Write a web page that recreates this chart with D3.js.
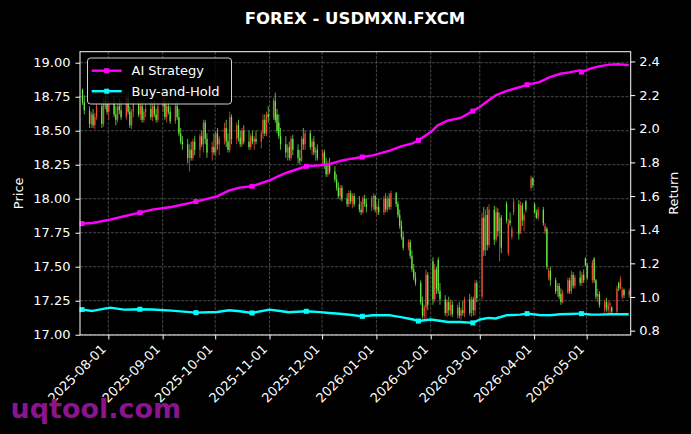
<!DOCTYPE html>
<html><head><meta charset="utf-8">
<script src="https://cdn.jsdelivr.net/npm/d3@7"></script>
<style>
html,body{margin:0;padding:0;background:#000;}
svg{display:block;font-family:"DejaVu Sans",sans-serif;}
</style></head><body>
<svg id="chart" width="691" height="434"></svg>
<script>
// ---------- DATA ----------
const dates = [
"2025-07-17","2025-07-18",
"2025-07-21","2025-07-22","2025-07-23","2025-07-24","2025-07-25",
"2025-07-28","2025-07-29","2025-07-30","2025-07-31","2025-08-01",
"2025-08-04","2025-08-05","2025-08-06","2025-08-07","2025-08-08",
"2025-08-11","2025-08-12","2025-08-13","2025-08-14","2025-08-15",
"2025-08-18","2025-08-19","2025-08-20","2025-08-21","2025-08-22",
"2025-08-25","2025-08-26","2025-08-27","2025-08-28","2025-08-29",
"2025-09-01","2025-09-02","2025-09-03","2025-09-04","2025-09-05",
"2025-09-08","2025-09-09","2025-09-10","2025-09-11","2025-09-12",
"2025-09-15","2025-09-16","2025-09-17","2025-09-18","2025-09-19",
"2025-09-22","2025-09-23","2025-09-24","2025-09-25","2025-09-26",
"2025-09-29","2025-09-30","2025-10-01","2025-10-02","2025-10-03",
"2025-10-06","2025-10-07","2025-10-08","2025-10-09","2025-10-10",
"2025-10-13","2025-10-14","2025-10-15","2025-10-16","2025-10-17",
"2025-10-20","2025-10-21","2025-10-22","2025-10-23","2025-10-24",
"2025-10-27","2025-10-28","2025-10-29","2025-10-30","2025-10-31",
"2025-11-03","2025-11-04","2025-11-05","2025-11-06","2025-11-07",
"2025-11-10","2025-11-11","2025-11-12","2025-11-13","2025-11-14",
"2025-11-17","2025-11-18","2025-11-19","2025-11-20","2025-11-21",
"2025-11-24","2025-11-25","2025-11-26","2025-11-27","2025-11-28",
"2025-12-01","2025-12-02","2025-12-03","2025-12-04","2025-12-05",
"2025-12-08","2025-12-09","2025-12-10","2025-12-11","2025-12-12",
"2025-12-15","2025-12-16","2025-12-17","2025-12-18","2025-12-19",
"2025-12-22","2025-12-23","2025-12-24","2025-12-25","2025-12-26",
"2025-12-29","2025-12-30","2025-12-31","2026-01-01","2026-01-02",
"2026-01-05","2026-01-06","2026-01-07","2026-01-08","2026-01-09",
"2026-01-12","2026-01-13","2026-01-14","2026-01-15","2026-01-16",
"2026-01-19","2026-01-20","2026-01-21","2026-01-22","2026-01-23",
"2026-01-26","2026-01-27","2026-01-28","2026-01-29","2026-01-30",
"2026-02-02","2026-02-03","2026-02-04","2026-02-05","2026-02-06",
"2026-02-09","2026-02-10","2026-02-11","2026-02-12","2026-02-13",
"2026-02-16","2026-02-17","2026-02-18","2026-02-19","2026-02-20",
"2026-02-23","2026-02-24","2026-02-25","2026-02-26","2026-02-27",
"2026-03-02","2026-03-03","2026-03-04","2026-03-05","2026-03-06",
"2026-03-09","2026-03-10","2026-03-11","2026-03-12","2026-03-13",
"2026-03-16","2026-03-17","2026-03-18","2026-03-19","2026-03-20",
"2026-03-23","2026-03-24","2026-03-25","2026-03-26","2026-03-27",
"2026-03-30","2026-03-31","2026-04-01","2026-04-02","2026-04-03",
"2026-04-06","2026-04-07","2026-04-08","2026-04-09","2026-04-10",
"2026-04-13","2026-04-14","2026-04-15","2026-04-16","2026-04-17",
"2026-04-20","2026-04-21","2026-04-22","2026-04-23","2026-04-24",
"2026-04-27","2026-04-28","2026-04-29","2026-04-30","2026-05-01",
"2026-05-04","2026-05-05","2026-05-06","2026-05-07","2026-05-08",
"2026-05-11","2026-05-12","2026-05-13","2026-05-14","2026-05-15",
"2026-05-18","2026-05-19","2026-05-20","2026-05-21","2026-05-22",
"2026-05-25"
];
const openP = [
18.80,18.71,
18.65,18.55,18.62,18.54,18.60,
18.68,18.55,18.72,18.70,18.64,
18.70,18.62,18.58,18.68,18.65,
18.60,18.74,18.64,18.54,18.64,
18.70,18.62,18.68,18.58,18.64,
18.66,18.60,18.68,18.62,18.58,
18.68,18.72,18.60,18.68,18.64,
18.57,18.68,18.60,18.48,18.42,
18.40,18.30,18.36,18.30,18.42,
18.36,18.46,18.40,18.56,18.44,
18.34,18.38,18.34,18.48,18.40,
18.44,18.52,18.42,18.36,18.60,
18.44,18.54,18.45,18.40,18.50,
18.42,18.38,18.46,18.42,18.44,
18.42,18.48,18.58,18.48,18.62,
18.60,18.72,18.62,18.56,18.46,
18.40,18.34,18.38,18.30,18.44,
18.36,18.30,18.28,18.44,18.40,
18.48,18.38,18.42,18.34,18.36,
18.30,18.34,18.24,18.18,18.26,
18.20,18.14,18.08,18.02,18.08,
18.00,17.96,18.04,17.98,18.02,
17.96,17.92,17.90,18.00,17.96,
17.94,18.00,18.02,17.92,17.94,
17.90,18.00,17.92,18.00,17.94,
18.04,17.96,17.88,17.80,17.72,
17.64,17.68,17.58,17.48,17.42,
17.38,17.24,17.14,17.20,17.44,
17.54,17.26,17.48,17.55,17.32,
17.26,17.16,17.24,17.18,17.22,
17.15,17.20,17.14,17.18,17.16,
17.26,17.16,17.26,17.18,17.38,
17.28,17.86,17.62,17.88,17.66,
17.92,17.70,17.90,17.76,17.86,
17.96,17.60,17.84,17.72,17.90,
17.96,17.76,17.95,17.84,17.98,
18.08,18.15,17.96,17.90,17.86,
17.92,17.76,17.78,17.42,17.47,
17.40,17.32,17.36,17.30,17.24,
17.31,17.40,17.32,17.44,17.36,
17.42,17.38,17.44,17.56,17.51,
17.40,17.56,17.40,17.28,17.30,
17.18,17.24,17.18,17.22,17.20,
17.17,17.38,17.34,17.28,17.33,
17.29
];
const highP = [
18.81,18.76,
18.68,18.64,18.66,18.63,18.70,
18.70,18.74,18.78,18.80,18.72,
18.76,18.68,18.70,18.74,18.72,
18.76,18.78,18.68,18.66,18.72,
18.73,18.70,18.72,18.66,18.70,
18.72,18.70,18.72,18.66,18.70,
18.76,18.75,18.70,18.72,18.68,
18.70,18.72,18.66,18.52,18.46,
18.44,18.40,18.42,18.44,18.46,
18.48,18.50,18.58,18.58,18.48,
18.42,18.48,18.50,18.52,18.46,
18.56,18.58,18.48,18.64,18.62,
18.56,18.58,18.50,18.52,18.54,
18.50,18.48,18.50,18.46,18.50,
18.50,18.62,18.62,18.64,18.68,
18.74,18.78,18.66,18.62,18.52,
18.46,18.40,18.42,18.46,18.47,
18.40,18.36,18.46,18.52,18.50,
18.50,18.44,18.46,18.38,18.40,
18.36,18.36,18.30,18.28,18.30,
18.24,18.18,18.12,18.10,18.10,
18.04,18.06,18.06,18.04,18.04,
18.02,17.98,18.02,18.03,18.00,
18.02,18.04,18.03,17.96,18.00,
18.02,18.04,18.02,18.04,18.06,
18.05,17.98,17.92,17.84,17.76,
17.70,17.70,17.62,17.52,17.46,
17.40,17.28,17.22,17.48,17.46,
17.57,17.52,17.50,17.57,17.38,
17.29,17.26,17.28,17.26,17.25,
17.22,17.24,17.20,17.25,17.28,
17.30,17.28,17.28,17.40,17.40,
17.90,17.94,17.92,17.94,17.96,
17.95,17.94,17.93,17.90,17.88,
17.98,17.85,17.90,17.80,18.00,
17.99,17.98,17.97,17.90,17.99,
18.17,18.16,17.97,17.92,17.94,
17.94,17.82,17.79,17.49,17.50,
17.42,17.38,17.38,17.34,17.33,
17.42,17.42,17.47,17.46,17.44,
17.47,17.46,17.48,17.57,17.53,
17.55,17.57,17.41,17.34,17.32,
17.26,17.27,17.25,17.24,17.21,
17.36,17.39,17.43,17.35,17.34,
17.34
];
const lowP = [
18.69,18.62,
18.52,18.52,18.52,18.51,18.58,
18.52,18.53,18.66,18.62,18.58,
18.60,18.54,18.56,18.62,18.58,
18.58,18.62,18.52,18.51,18.60,
18.60,18.58,18.56,18.56,18.60,
18.58,18.57,18.60,18.56,18.56,
18.64,18.58,18.56,18.62,18.55,
18.55,18.58,18.46,18.40,18.36,
18.26,18.20,18.28,18.28,18.32,
18.30,18.38,18.34,18.40,18.30,
18.28,18.32,18.31,18.36,18.32,
18.40,18.38,18.34,18.34,18.40,
18.40,18.42,18.38,18.38,18.40,
18.36,18.36,18.40,18.36,18.40,
18.37,18.44,18.46,18.46,18.56,
18.58,18.56,18.48,18.44,18.36,
18.30,18.28,18.28,18.28,18.32,
18.26,18.25,18.27,18.36,18.36,
18.36,18.32,18.32,18.28,18.28,
18.24,18.22,18.16,18.16,18.18,
18.12,18.06,18.00,17.99,17.98,
17.94,17.94,17.96,17.93,17.94,
17.90,17.88,17.89,17.94,17.90,
17.91,17.92,17.90,17.88,17.88,
17.88,17.90,17.90,17.92,17.92,
17.94,17.86,17.78,17.70,17.62,
17.62,17.56,17.46,17.40,17.36,
17.22,17.12,17.11,17.12,17.18,
17.22,17.24,17.30,17.30,17.22,
17.14,17.13,17.14,17.14,17.13,
17.12,17.12,17.11,17.14,17.13,
17.14,17.13,17.14,17.14,17.24,
17.26,17.58,17.58,17.62,17.64,
17.66,17.68,17.72,17.54,17.60,
17.82,17.58,17.80,17.70,17.88,
17.70,17.74,17.80,17.76,17.90,
18.06,18.08,17.89,17.85,17.84,
17.80,17.74,17.48,17.40,17.36,
17.30,17.28,17.26,17.22,17.23,
17.30,17.30,17.30,17.34,17.34,
17.36,17.36,17.38,17.50,17.40,
17.38,17.38,17.26,17.24,17.20,
17.16,17.17,17.16,17.16,17.15,
17.16,17.32,17.33,17.26,17.27,
17.27
];
const closeP = [
18.71,18.65,
18.55,18.62,18.54,18.60,18.68,
18.55,18.72,18.70,18.64,18.70,
18.62,18.58,18.68,18.65,18.60,
18.74,18.64,18.54,18.64,18.70,
18.62,18.68,18.58,18.64,18.66,
18.60,18.68,18.62,18.58,18.68,
18.72,18.60,18.68,18.64,18.57,
18.68,18.60,18.48,18.42,18.40,
18.30,18.36,18.30,18.42,18.36,
18.46,18.40,18.56,18.44,18.34,
18.38,18.34,18.48,18.40,18.44,
18.52,18.42,18.36,18.60,18.44,
18.54,18.45,18.40,18.50,18.42,
18.38,18.46,18.42,18.44,18.42,
18.48,18.58,18.48,18.62,18.60,
18.72,18.58,18.50,18.46,18.40,
18.34,18.38,18.30,18.44,18.36,
18.30,18.28,18.44,18.40,18.48,
18.38,18.42,18.34,18.36,18.30,
18.34,18.24,18.18,18.26,18.20,
18.14,18.08,18.02,18.08,18.00,
17.96,18.04,17.98,18.02,17.96,
17.92,17.90,18.00,17.96,17.94,
18.00,18.02,17.92,17.94,17.90,
18.00,17.92,18.00,17.94,18.04,
17.96,17.88,17.80,17.72,17.64,
17.68,17.58,17.48,17.42,17.38,
17.24,17.14,17.20,17.44,17.22,
17.26,17.48,17.34,17.32,17.26,
17.16,17.24,17.18,17.22,17.15,
17.20,17.14,17.18,17.16,17.26,
17.16,17.26,17.18,17.38,17.27,
17.86,17.62,17.88,17.66,17.92,
17.70,17.90,17.76,17.86,17.64,
17.84,17.82,17.82,17.78,17.98,
17.74,17.95,17.84,17.88,17.92,
18.15,18.10,17.90,17.86,17.92,
17.82,17.80,17.50,17.47,17.40,
17.32,17.36,17.28,17.24,17.31,
17.40,17.32,17.44,17.36,17.42,
17.38,17.44,17.40,17.51,17.42,
17.53,17.40,17.28,17.30,17.22,
17.24,17.20,17.22,17.23,17.17,
17.34,17.34,17.41,17.33,17.29,
17.32
];

const lineDates = [
"2025-07-17","2025-07-23","2025-08-02","2025-08-10","2025-08-19","2025-08-26","2025-09-06","2025-09-20",
"2025-10-02","2025-10-09","2025-10-15","2025-10-22","2025-11-01","2025-11-07","2025-11-12","2025-11-22",
"2025-11-30","2025-12-05","2025-12-11","2025-12-18","2025-12-24","2025-12-30","2026-01-09","2026-01-15",
"2026-01-22","2026-01-25","2026-02-01","2026-02-05","2026-02-11","2026-02-18","2026-02-25","2026-03-01",
"2026-03-06","2026-03-10","2026-03-16","2026-03-24","2026-03-28","2026-04-04","2026-04-10","2026-04-16",
"2026-04-21","2026-04-27","2026-04-28","2026-05-03","2026-05-08","2026-05-14","2026-05-19","2026-05-25"
];
const aiReturn = [
1.436,1.440,1.460,1.480,1.501,1.519,1.535,1.567,
1.598,1.634,1.650,1.658,1.693,1.723,1.743,1.777,
1.783,1.789,1.808,1.822,1.832,1.842,1.872,1.895,
1.915,1.931,1.980,2.020,2.050,2.064,2.105,2.129,
2.169,2.198,2.224,2.248,2.262,2.277,2.307,2.327,
2.335,2.347,2.337,2.357,2.371,2.381,2.383,2.378
];
const bhReturn = [
0.925,0.917,0.937,0.925,0.927,0.926,0.919,0.907,
0.911,0.921,0.915,0.905,0.925,0.917,0.909,0.915,
0.910,0.905,0.900,0.893,0.885,0.891,0.891,0.880,
0.866,0.857,0.866,0.860,0.851,0.851,0.846,0.866,
0.876,0.872,0.891,0.895,0.901,0.893,0.891,0.897,
0.899,0.901,0.901,0.896,0.895,0.897,0.897,0.897
];
const markerDates = ["2025-07-17","2025-08-19","2025-09-20","2025-10-22","2025-11-22","2025-12-24","2026-01-25","2026-02-25","2026-03-28","2026-04-28"];

const priceTicks = [17.00,17.25,17.50,17.75,18.00,18.25,18.50,18.75,19.00];
const returnTicks = [0.8,1.0,1.2,1.4,1.6,1.8,2.0,2.2,2.4];
const xTicks = ["2025-08-01","2025-09-01","2025-10-01","2025-11-01","2025-12-01","2026-01-01","2026-02-01","2026-03-01","2026-04-01","2026-05-01"];
const seriesNames = ["AI Strategy","Buy-and-Hold"];
const titleText = "FOREX - USDMXN.FXCM";

// ---------- DRAW ----------
const svg = d3.select("#chart");
const m = {l:80, r:630.7, t:51.7, b:335};
const parse = d3.utcParse("%Y-%m-%d");
const x = d3.scaleUtc()
  .domain([new Date(Date.UTC(2025,6,15,20)), new Date(Date.UTC(2026,4,26,3))])
  .range([m.l, m.r]);
const yP = d3.scaleLinear().domain([16.998, 19.081]).range([m.b, m.t]);
const yR = d3.scaleLinear().domain([0.774, 2.458]).range([m.b, m.t]);

svg.append("rect").attr("width",691).attr("height",434).attr("fill","#000");

// grid
const grid = svg.append("g");
grid.selectAll(".gx").data(xTicks).join("line")
  .attr("x1", d=>x(parse(d))).attr("x2", d=>x(parse(d)))
  .attr("y1", m.t).attr("y2", m.b)
  .attr("stroke","#5a5a5a").attr("stroke-width",0.8).attr("stroke-dasharray","3,1.4");
grid.selectAll(".gy").data(priceTicks).join("line")
  .attr("x1", m.l).attr("x2", m.r)
  .attr("y1", d=>yP(d)).attr("y2", d=>yP(d))
  .attr("stroke","#5a5a5a").attr("stroke-width",0.8).attr("stroke-dasharray","3,1.4");

// candles
const upC = "#f0503c", dnC = "#6cf048";
const cg = svg.append("g");
dates.forEach((ds,i)=>{
  const cx = x(parse(ds)) + 0.5;
  const up = closeP[i] >= openP[i];
  const col = up ? upC : dnC;
  cg.append("line").attr("x1",cx).attr("x2",cx)
    .attr("y1", yP(highP[i])).attr("y2", yP(lowP[i]))
    .attr("stroke", col).attr("stroke-width", 0.9).attr("opacity",0.85);
  const yt = yP(Math.max(openP[i], closeP[i])), yb = yP(Math.min(openP[i], closeP[i]));
  cg.append("rect").attr("x", cx-0.65).attr("width",1.3)
    .attr("y", yt).attr("height", Math.max(0.8, yb-yt))
    .attr("fill", col).attr("opacity",0.9);
});

// lines
const lineData = (vals)=> lineDates.map((d,i)=>({d:parse(d), v:vals[i]}));
const lineGen = d3.line().x(p=>x(p.d)).y(p=>yR(p.v)).curve(d3.curveLinear);
const series = [
  {name:seriesNames[0], vals:aiReturn, col:"#ff00ff"},
  {name:seriesNames[1], vals:bhReturn, col:"#00ffff"}
];
series.forEach(s=>{
  const pts = lineData(s.vals);
  svg.append("path").attr("d", lineGen(pts)).attr("fill","none")
    .attr("stroke", s.col).attr("stroke-width",2.4).attr("stroke-linejoin","round");
  const mk = pts.filter(p=>markerDates.includes(d3.utcFormat("%Y-%m-%d")(p.d)));
  svg.append("g").selectAll("rect").data(mk).join("rect")
    .attr("x", p=>x(p.d)-2.5).attr("y", p=>yR(p.v)-2.5)
    .attr("width",5).attr("height",5).attr("fill", s.col);
});

// spines
svg.append("rect").attr("x",m.l).attr("y",m.t).attr("width",m.r-m.l).attr("height",m.b-m.t)
  .attr("fill","none").attr("stroke","#fff").attr("stroke-width",1);

// axes
const axL = svg.append("g").attr("transform",`translate(${m.l},0)`)
  .call(d3.axisLeft(yP).tickValues(priceTicks).tickFormat(d3.format(".2f")).tickSize(4.5).tickPadding(5));
const axR = svg.append("g").attr("transform",`translate(${m.r},0)`)
  .call(d3.axisRight(yR).tickValues(returnTicks).tickFormat(d3.format(".1f")).tickSize(4.5).tickPadding(4));
const axB = svg.append("g").attr("transform",`translate(0,${m.b})`)
  .call(d3.axisBottom(x).tickValues(xTicks.map(parse)).tickFormat(d3.utcFormat("%Y-%m-%d")).tickSize(4.5));
[axL,axR,axB].forEach(a=>{
  a.select(".domain").remove();
  a.selectAll(".tick line").attr("stroke","#fff").attr("stroke-width",1);
  a.selectAll(".tick text").attr("fill","#fff").attr("font-size",13).attr("font-family","DejaVu Sans");
});
axB.selectAll(".tick text")
  .attr("text-anchor","end").attr("dy",null).attr("y",null)
  .attr("transform","translate(-2,15) rotate(-45)");

// axis labels
svg.append("text").attr("transform","translate(22.5,193.3) rotate(-90)")
  .attr("text-anchor","middle").attr("fill","#fff").attr("font-size",13).text("Price");
svg.append("text").attr("transform","translate(678,193.3) rotate(-90)")
  .attr("text-anchor","middle").attr("fill","#fff").attr("font-size",13).text("Return");

// title
svg.append("text").attr("x",355).attr("y",23.5).attr("text-anchor","middle")
  .attr("fill","#fff").attr("font-size",16.5).attr("font-weight","bold").text(titleText);

// legend
const lg = svg.append("g");
lg.append("rect").attr("x",87.5).attr("y",58).attr("width",144).attr("height",46).attr("rx",3)
  .attr("fill","#000").attr("fill-opacity",0.8).attr("stroke","#d0d0d0").attr("stroke-width",1);
series.forEach((s,i)=>{
  const yy = 70.7 + i*20.5;
  lg.append("line").attr("x1",91.7).attr("x2",121.7).attr("y1",yy).attr("y2",yy)
    .attr("stroke",s.col).attr("stroke-width",2.4);
  lg.append("rect").attr("x",106.7-2.5).attr("y",yy-2.5).attr("width",5).attr("height",5).attr("fill",s.col);
  lg.append("text").attr("x",131.5).attr("y",yy+4.6).attr("fill","#fff").attr("font-size",13).text(s.name);
});

// watermark
svg.append("text").attr("x",10.5).attr("y",418).attr("fill","#8c148c")
  .attr("font-size",27).attr("font-weight","bold").text("uqtool.com");
</script>
</body></html>
